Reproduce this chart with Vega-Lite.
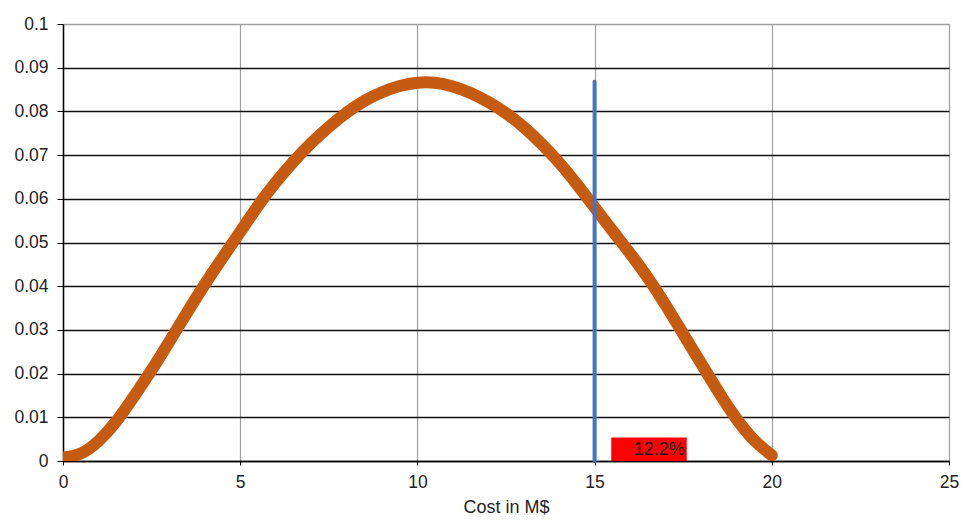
{
  "$schema": "https://vega.github.io/schema/vega-lite/v6.json",
  "autosize": "none",
  "padding": {"left": 63, "top": 24, "right": 26, "bottom": 61},
  "width": 886,
  "height": 437,
  "background": "white",
  "config": {
    "font": "Liberation Sans",
    "view": {"stroke": "#a0a0a0", "strokeWidth": 1}
  },
  "datasets": {
    "curve": [
      {"cost": 0, "p": 0.0008},
      {"cost": 0.5, "p": 0.0013},
      {"cost": 1.0, "p": 0.0043},
      {"cost": 1.5, "p": 0.0088},
      {"cost": 2.0, "p": 0.0147},
      {"cost": 2.5, "p": 0.0207},
      {"cost": 3.0, "p": 0.0273},
      {"cost": 3.5, "p": 0.034},
      {"cost": 4.0, "p": 0.0405},
      {"cost": 4.5, "p": 0.0465},
      {"cost": 5.0, "p": 0.0524},
      {"cost": 5.5, "p": 0.0585},
      {"cost": 6.0, "p": 0.0638},
      {"cost": 6.5, "p": 0.0686},
      {"cost": 7.0, "p": 0.0728},
      {"cost": 7.5, "p": 0.0765},
      {"cost": 8.0, "p": 0.0798},
      {"cost": 8.5, "p": 0.0825},
      {"cost": 9.0, "p": 0.0845},
      {"cost": 9.5, "p": 0.0859},
      {"cost": 10.0, "p": 0.0867},
      {"cost": 10.5, "p": 0.0867},
      {"cost": 11.0, "p": 0.0858},
      {"cost": 11.5, "p": 0.0843},
      {"cost": 12.0, "p": 0.0822},
      {"cost": 12.5, "p": 0.0797},
      {"cost": 13.0, "p": 0.0765},
      {"cost": 13.5, "p": 0.0727},
      {"cost": 14.0, "p": 0.0684},
      {"cost": 14.5, "p": 0.0634},
      {"cost": 15.0, "p": 0.058},
      {"cost": 15.5, "p": 0.0527},
      {"cost": 16.0, "p": 0.0476},
      {"cost": 16.5, "p": 0.0421},
      {"cost": 17.0, "p": 0.0358},
      {"cost": 17.5, "p": 0.0291},
      {"cost": 18.0, "p": 0.0224},
      {"cost": 18.5, "p": 0.0157},
      {"cost": 19.0, "p": 0.0095},
      {"cost": 19.5, "p": 0.0045},
      {"cost": 20.0, "p": 0.0013}
    ],
    "marker": [{"cost": 15, "p0": 0, "p1": 0.0868}],
    "box": [{"x0": 15.47, "x1": 17.6, "y0": 0, "y1": 0.0054, "label": "12.2%"}]
  },
  "layer": [
    {
      "data": {"name": "curve"},
      "mark": {"type": "line", "color": "#C55A11", "strokeWidth": 12, "strokeCap": "round", "strokeJoin": "round", "interpolate": "basis", "clip": true},
      "encoding": {
        "x": {
          "field": "cost", "type": "quantitative",
          "scale": {"domain": [0, 25], "nice": false, "zero": false},
          "axis": {
            "title": "Cost in M$",
            "titleFontSize": 18, "titleFontWeight": "normal", "titleColor": "#222", "titlePadding": 8,
            "values": [0, 5, 10, 15, 20, 25],
            "labelFontSize": 17.5, "labelColor": "#222", "labelPadding": 8, "labelFlush": false,
            "domainColor": "#000", "domainWidth": 1.5,
            "tickColor": "#000", "tickSize": 4,
            "grid": true, "gridColor": "#a0a0a0", "gridWidth": 1.2
          }
        },
        "y": {
          "field": "p", "type": "quantitative",
          "scale": {"domain": [0, 0.1], "nice": false},
          "axis": {
            "title": null,
            "values": [0, 0.01, 0.02, 0.03, 0.04, 0.05, 0.06, 0.07, 0.08, 0.09, 0.1],
            "format": ".2~f",
            "labelFontSize": 17.5, "labelColor": "#222", "labelPadding": 9, "labelFlush": false,
            "domainColor": "#000", "domainWidth": 1.5,
            "tickColor": "#000", "tickSize": 6,
            "grid": true,
            "gridColor": {"condition": {"test": "datum.value >= 0.1", "value": "#a0a0a0"}, "value": "#111"},
            "gridWidth": 1.5
          }
        }
      }
    },
    {
      "data": {"name": "marker"},
      "mark": {"type": "rule", "color": "#4472C4", "strokeWidth": 4, "strokeCap": "round"},
      "encoding": {
        "x": {"field": "cost", "type": "quantitative"},
        "y": {"field": "p0", "type": "quantitative"},
        "y2": {"field": "p1"}
      }
    },
    {
      "data": {"name": "box"},
      "mark": {"type": "rect", "color": "#FF0000"},
      "encoding": {
        "x": {"field": "x0", "type": "quantitative"},
        "x2": {"field": "x1"},
        "y": {"field": "y0", "type": "quantitative"},
        "y2": {"field": "y1"}
      }
    },
    {
      "data": {"name": "box"},
      "mark": {"type": "text", "align": "right", "baseline": "middle", "fontSize": 18, "color": "#1a1a1a", "dx": -2, "dy": -11},
      "encoding": {
        "x": {"field": "x1", "type": "quantitative"},
        "y": {"field": "y0", "type": "quantitative"},
        "text": {"field": "label"}
      }
    }
  ]
}
